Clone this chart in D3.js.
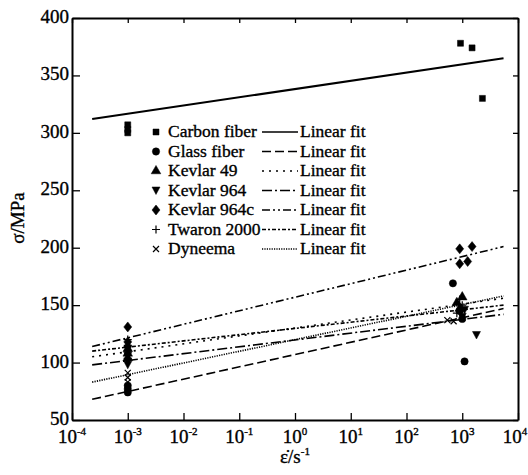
<!DOCTYPE html>
<html>
<head>
<meta charset="utf-8">
<script src="https://cdn.jsdelivr.net/npm/d3@7"></script>
<style>
body { margin: 0; background: #fff; }
text { font-family: "Liberation Serif", "Times New Roman", serif; fill: #000; stroke: #000; stroke-width: 0.35; }
</style>
</head>
<body>
<div id="chart"></div>
<script>
// series names, as in the legend
let seriesNames = ['Carbon fiber', 'Glass fiber', 'Kevlar 49', 'Kevlar 964', 'Kevlar 964c', 'Twaron 2000', 'Dyneema'];

// measured points [strain rate, stress]
let carbon    = [[0.001, 307], [0.001, 303], [0.001, 300], [930, 378], [1500, 374], [2300, 330]];
let glass     = [[0.001, 74], [0.001, 77], [0.001, 80], [680, 169], [1100, 101], [900, 145], [1000, 138]];
let kevlar49  = [[0.001, 104], [0.001, 108], [0.001, 112], [800, 152], [1000, 157], [900, 147]];
let kevlar964 = [[0.001, 98], [0.001, 101], [0.001, 106], [1800, 124], [1000, 140], [1100, 146]];
let kevlar964c = [[0.001, 131], [0.001, 118], [0.001, 114], [900, 199], [1500, 201], [900, 186], [1250, 188]];
let twaron    = [[0.001, 110], [0.001, 115], [0.001, 120], [900, 155], [1000, 150], [800, 143]];
let dyneema   = [[0.001, 83], [0.001, 87], [0.001, 91], [540, 137], [700, 136], [1000, 139]];

// linear fits: value at the two ends of the drawn line
let fitX = [2.3e-4, 5.5e3];
let fitCarbon    = [312, 365];
let fitGlass     = [68, 147];
let fitKevlar49  = [105, 156];
let fitKevlar964 = [98, 142];
let fitKevlar964c = [114, 201];
let fitTwaron    = [110, 150];
let fitDyneema   = [83, 158];

let xTickExp = [-4, -3, -2, -1, 0, 1, 2, 3, 4];
let yTicks = [50, 100, 150, 200, 250, 300, 350, 400];

let points = [carbon, glass, kevlar49, kevlar964, kevlar964c, twaron, dyneema];
let fits = [fitCarbon, fitGlass, fitKevlar49, fitKevlar964, fitKevlar964c, fitTwaron, fitDyneema];
let dashes = ['none', '9,4', '2,5', '10,3,2,3', '8,3,2,3,2,3', '4,2,2,2', '1.2,1.2'];

let chart_width = 528;
let chart_height = 475;
let plotLeft = 72, plotRight = 518, plotTop = 18, plotBottom = 420;

let svg = d3.select('#chart')
    .append('svg')
    .attr('width', chart_width)
    .attr('height', chart_height);

let xScale = d3.scaleLog()
    .domain([1e-4, 1e4])
    .range([plotLeft, plotRight]);

let yScale = d3.scaleLinear()
    .domain([50, 400])
    .range([plotBottom, plotTop]);

// marker shapes
function marker(i) {
    if (i == 0) return d3.symbol(d3.symbolSquare, 36)();
    if (i == 1) return d3.symbol(d3.symbolCircle, 42)();
    if (i == 2) return d3.symbol(d3.symbolTriangle, 40)();
    if (i == 3) return 'M-4,-3.5L4,-3.5L0,4Z';
    if (i == 4) return 'M0,-5L4,0L0,5L-4,0Z';
    if (i == 5) return 'M-4,0H4M0,-4V4';
    return 'M-3,-3L3,3M-3,3L3,-3';
}
function drawMarker(g, i) {
    g.attr('d', marker(i))
        .attr('fill', i >= 5 ? 'none' : '#000')
        .attr('stroke', '#000')
        .attr('stroke-width', i >= 5 ? 1.2 : 0.5);
}

// axes (ticks inward on all four sides)
let xVals = xTickExp.map(e => Math.pow(10, e));
let xAxis = d3.axisBottom(xScale)
    .tickValues(xVals)
    .tickSizeInner(-7).tickSizeOuter(0)
    .tickFormat('');
let yAxis = d3.axisLeft(yScale)
    .tickValues(yTicks)
    .tickSizeInner(-8).tickSizeOuter(0)
    .tickFormat('');

svg.append('g')
    .attr('transform', 'translate(0,' + plotBottom + ')')
    .call(xAxis);
svg.append('g')
    .attr('transform', 'translate(0,' + plotTop + ')')
    .call(d3.axisTop(xScale).tickValues(xVals)
        .tickSizeInner(-5).tickSizeOuter(0).tickFormat(''));
svg.append('g')
    .attr('transform', 'translate(' + plotLeft + ',0)')
    .call(yAxis);
svg.append('g')
    .attr('transform', 'translate(' + plotRight + ',0)')
    .call(d3.axisRight(yScale).tickValues(yTicks)
        .tickSizeInner(-5).tickSizeOuter(0).tickFormat(''));

svg.selectAll('.domain').attr('stroke', '#000').attr('stroke-width', 2);
svg.selectAll('.tick line').attr('stroke', '#000').attr('stroke-width', 1.3);

// tick labels
svg.append('g')
    .selectAll('text')
    .data(yTicks)
    .enter()
    .append('text')
    .attr('x', plotLeft - 3)
    .attr('y', d => yScale(d) + 5)
    .attr('text-anchor', 'end')
    .attr('font-size', 19)
    .text(d => d);

let xl = svg.append('g')
    .selectAll('text')
    .data(xTickExp)
    .enter()
    .append('text')
    .attr('x', d => xScale(Math.pow(10, d)) - (d == 4 ? 3 : 0))
    .attr('y', plotBottom + 23)
    .attr('text-anchor', 'middle')
    .attr('font-size', 19);
xl.append('tspan').text('10');
xl.append('tspan').attr('font-size', 11).attr('dy', -8).text(d => d < 0 ? '-' + (-d) : d);

// axis titles
svg.append('text')
    .attr('transform', 'translate(24,218) rotate(-90)')
    .attr('text-anchor', 'middle')
    .attr('font-size', 19)
    .text('σ/MPa');

let xt = svg.append('text')
    .attr('x', 295)
    .attr('y', 463)
    .attr('text-anchor', 'middle')
    .attr('font-size', 19);
xt.append('tspan').text('\u03B5\u0307/s');
xt.append('tspan').attr('font-size', 11).attr('dy', -8).text('-1');

// fit lines
svg.append('g')
    .selectAll('line')
    .data(fits)
    .enter()
    .append('line')
    .attr('x1', xScale(fitX[0]))
    .attr('x2', xScale(fitX[1]))
    .attr('y1', d => yScale(d[0]))
    .attr('y2', d => yScale(d[1]))
    .attr('stroke', '#000')
    .attr('stroke-width', (d, i) => i == 0 ? 2 : 1.6)
    .attr('stroke-dasharray', (d, i) => dashes[i]);

// data points
points.forEach(function(s, i) {
    svg.append('g')
        .selectAll('path')
        .data(s)
        .enter()
        .append('path')
        .attr('transform', d => 'translate(' + xScale(d[0]) + ',' + yScale(d[1]) + ')')
        .call(drawMarker, i);
});

// legend
let legend = svg.append('g')
    .selectAll('g')
    .data(seriesNames)
    .enter()
    .append('g')
    .attr('transform', (d, i) => 'translate(0,' + (132 + i * 19.5) + ')');

legend.append('path')
    .attr('transform', 'translate(156,0)')
    .each(function(d, i) { d3.select(this).call(drawMarker, i); });
legend.append('text')
    .attr('x', 168)
    .attr('y', 5)
    .attr('font-size', 17.5)
    .text(d => d);
legend.append('line')
    .attr('x1', 262).attr('x2', 298)
    .attr('y1', 0).attr('y2', 0)
    .attr('stroke', '#000')
    .attr('stroke-width', 1.6)
    .attr('stroke-dasharray', (d, i) => dashes[i]);
legend.append('text')
    .attr('x', 300)
    .attr('y', 5)
    .attr('font-size', 17.5)
    .text('Linear fit');
</script>
</body>
</html>
